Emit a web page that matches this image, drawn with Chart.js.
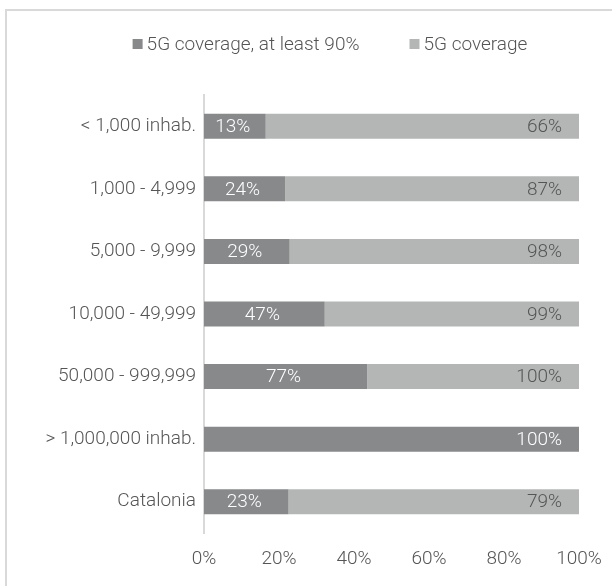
<!DOCTYPE html>
<html>
<head>
<meta charset="utf-8">
<script src="https://cdn.jsdelivr.net/npm/chart.js@4.4.1/dist/chart.umd.min.js"></script>
<style>
  html, body { margin: 0; padding: 0; background: #ffffff; }
  canvas { display: block; }
</style>
</head>
<body>
<canvas id="coverage_chart" width="612" height="586"></canvas>
<script>
const categories = ['< 1,000 inhab.', '1,000 - 4,999', '5,000 - 9,999', '10,000 - 49,999', '50,000 - 999,999', '> 1,000,000 inhab.', 'Catalonia'];
const atLeast90 = [13, 24, 29, 47, 77, 100, 23];
const coverage = [66, 87, 98, 99, 100, 0, 79];
const seriesNames = ['5G coverage, at least 90%', '5G coverage'];
const xTicks = [0, 20, 40, 60, 80, 100];

const darkGrey = '#87898a';
const lightGrey = '#b4b6b6';
const textGrey = '#555555';
const fontFamily = 'Roboto, "Liberation Sans", sans-serif';
const fontSize = 19;

// each row is stacked to 100%: the two values are shown as shares of their sum
function shares(values) {
  return values.map(function (v, i) {
    return v / (atLeast90[i] + coverage[i]) * 100;
  });
}

// frame around the chart
const framePlugin = {
  id: 'frame',
  beforeDraw(chart) {
    const ctx = chart.ctx;
    ctx.save();
    ctx.strokeStyle = '#d9d9d9';
    ctx.lineWidth = 2;
    ctx.strokeRect(6, 10, 700, 700);
    ctx.restore();
  }
};

// legend drawn above the plot, squares right next to the text
const legendPlugin = {
  id: 'topLegend',
  afterDraw(chart) {
    const ctx = chart.ctx;
    const box = 10, gap = 4, space = 50, cx = 330, cy = 44;
    ctx.save();
    ctx.font = '300 ' + fontSize + 'px ' + fontFamily;
    ctx.textBaseline = 'middle';
    ctx.textAlign = 'left';
    const items = chart.data.datasets.map(function (ds) {
      return { text: ds.label, color: ds.backgroundColor, w: ctx.measureText(ds.label).width };
    });
    let total = space * (items.length - 1);
    items.forEach(function (it) { total += box + gap + it.w; });
    let x = cx - total / 2;
    items.forEach(function (it) {
      ctx.fillStyle = it.color;
      ctx.fillRect(x, cy - box / 2, box, box);
      x += box + gap;
      ctx.fillStyle = textGrey;
      ctx.fillText(it.text, x, cy + 1);
      x += it.w + space;
    });
    ctx.restore();
  }
};

// value labels: dark share centred, light share at the inner end of the bar
const valueLabels = {
  id: 'valueLabels',
  afterDatasetsDraw(chart) {
    const ctx = chart.ctx;
    ctx.save();
    ctx.font = '300 ' + fontSize + 'px ' + fontFamily;
    ctx.textBaseline = 'middle';
    chart.getDatasetMeta(0).data.forEach(function (bar, i) {
      const p = bar.getProps(['x', 'y', 'base'], true);
      ctx.fillStyle = '#ffffff';
      if (coverage[i] === 0) {
        ctx.textAlign = 'right';
        ctx.fillText(atLeast90[i] + '%', p.x - 17, p.y + 1);
      } else {
        ctx.textAlign = 'center';
        ctx.fillText(atLeast90[i] + '%', (p.x + p.base) / 2 - 2, p.y + 1);
      }
    });
    chart.getDatasetMeta(1).data.forEach(function (bar, i) {
      if (coverage[i] === 0) return;
      const p = bar.getProps(['x', 'y'], true);
      ctx.fillStyle = textGrey;
      ctx.textAlign = 'right';
      ctx.fillText(coverage[i] + '%', p.x - 17, p.y + 1);
    });
    ctx.restore();
  }
};

const ctx = document.getElementById('coverage_chart');
new Chart(ctx, {
  type: 'bar',
  data: {
    labels: categories,
    datasets: [{
      label: seriesNames[0],
      data: shares(atLeast90),
      backgroundColor: darkGrey,
      borderWidth: 0,
      barPercentage: 0.4,
      categoryPercentage: 1
    }, {
      label: seriesNames[1],
      data: shares(coverage),
      backgroundColor: lightGrey,
      borderWidth: 0,
      barPercentage: 0.4,
      categoryPercentage: 1
    }]
  },
  options: {
    indexAxis: 'y',
    responsive: false,
    animation: false,
    layout: {
      padding: { top: 95, right: 33, bottom: 0, left: 0 }
    },
    plugins: {
      legend: { display: false },
      tooltip: { enabled: false }
    },
    scales: {
      x: {
        stacked: true,
        min: 0,
        max: 100,
        afterBuildTicks: function (scale) {
          scale.ticks = xTicks.map(function (v) { return { value: v }; });
        },
        afterFit: function (scale) {
          scale.height = 53;
          // the outer tick labels fit inside the layout padding already
          scale.paddingLeft = 0;
          scale.paddingRight = 0;
        },
        grid: { display: false, drawTicks: false },
        border: { display: false },
        ticks: {
          padding: 15,
          color: textGrey,
          font: { family: fontFamily, size: fontSize, weight: 300 },
          callback: function (v) { return v + '%'; }
        }
      },
      y: {
        stacked: true,
        afterFit: function (scale) { scale.width = 204; },
        grid: { display: false, drawTicks: false },
        border: { display: true, color: '#d9d9d9', width: 2 },
        ticks: {
          padding: 8,
          color: textGrey,
          font: { family: fontFamily, size: fontSize, weight: 300 }
        }
      }
    }
  },
  plugins: [framePlugin, legendPlugin, valueLabels]
});
</script>
</body>
</html>
